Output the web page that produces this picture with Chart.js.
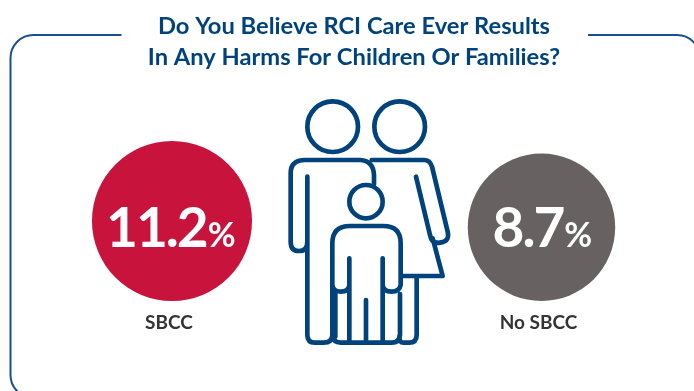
<!DOCTYPE html>
<html>
<head>
<meta charset="utf-8">
<title>RCI Care Harms</title>
<script src="https://cdn.jsdelivr.net/npm/chart.js@4"></script>
<style>
    html, body { margin: 0; padding: 0; background: #ffffff; overflow: hidden; }
    canvas { display: block; }
</style>
</head>
<body>
<canvas id="harmsChart" width="694" height="391"></canvas>
<script>
const titleLines = ['Do You Believe RCI Care Ever Results', 'In Any Harms For Children Or Families?'];
const categories = ['SBCC', 'No SBCC'];
const values = [11.2, 8.7];
const bubbleColors = ['#c8143c', '#676261'];

const navy = '#00437c';
const fontName = 'Lato, "Open Sans", sans-serif';

// circle size grows with the percentage
const radiusFor = (v) => 51.8 + 2.52 * v;

// Outline of the family icon, in a 570x810 box
const familyPaths = [
    // father, then mother
    'M112 260 V735 Q112 758 135 758 H160 Q187 758 187 735 M112 260 V455 Q112 483 87 483 Q62 483 62 455 V250 Q62 210 105 210 H270 Q310 212 312 255 V283',
    'M305 210 H462 Q480 210 486 230 L533 425 Q540 455 510 458 Q485 462 480 435 L438 260 M488 445 L518 558 H395 M440 558 V735 Q440 758 417 758 H400 Q388 758 388 740',
    // child
    'M187 735 V460 Q187 408 240 408 H340 Q392 408 392 460 V585 Q388 605 365 605 Q340 605 338 585 V505 M187 585 Q190 605 212 605 Q236 605 238 585 V505 M238 505 V752 M338 505 V752 M288 630 V752 M187 735 Q190 758 212 758 H365 Q388 758 390 735 V612 M196 612 V740'
];
const familyHeads = [[188, 110, 76], [389, 110, 76], [288, 335, 50]];

const framePlugin = {
    id: 'frame',
    beforeDraw(chart) {
        const ctx = chart.ctx;
        ctx.save();
        ctx.strokeStyle = '#1a4f8f';
        ctx.lineWidth = 2;
        ctx.beginPath();
        ctx.moveTo(121.5, 35);
        ctx.lineTo(33.5, 35);
        ctx.arcTo(10.5, 35, 10.5, 58, 23);
        ctx.lineTo(10.5, 375);
        ctx.arcTo(10.5, 398, 33.5, 398, 23);
        ctx.moveTo(588, 35);
        ctx.lineTo(677, 35);
        ctx.arcTo(700, 35, 700, 58, 23);
        ctx.stroke();
        ctx.restore();
    }
};

const familyPlugin = {
    id: 'family',
    afterDraw(chart) {
        const ctx = chart.ctx;
        ctx.save();
        ctx.translate(270, 90);
        ctx.scale(1 / 3, 1 / 3);
        ctx.strokeStyle = navy;
        ctx.lineWidth = 14;
        ctx.lineCap = 'round';
        ctx.lineJoin = 'round';
        familyPaths.forEach((d) => ctx.stroke(new Path2D(d)));
        familyHeads.forEach(([x, y, r]) => {
            ctx.beginPath();
            ctx.arc(x, y, r, 0, Math.PI * 2);
            ctx.stroke();
        });
        ctx.restore();
    }
};

// Percentage written inside each circle, big number and smaller % sign
const valueLabels = {
    id: 'valueLabels',
    afterDatasetsDraw(chart) {
        const ctx = chart.ctx;
        chart.getDatasetMeta(0).data.forEach((el, i) => {
            const num = values[i].toFixed(1);
            const left = el.x - 66 + i * 17;
            ctx.save();
            ctx.fillStyle = '#ffffff';
            ctx.textBaseline = 'alphabetic';
            ctx.textAlign = 'left';
            ctx.letterSpacing = '-2px';
            ctx.font = '700 55px ' + fontName;
            const numWidth = ctx.measureText(num).width;
            ctx.fillText(num, left, 247);
            ctx.letterSpacing = '0px';
            ctx.font = '700 34px ' + fontName;
            ctx.fillText('%', left + numWidth + 1, 247);
            ctx.restore();
        });
    }
};

new Chart(document.getElementById('harmsChart'), {
    type: 'bubble',
    data: {
        datasets: [{
            data: values.map((v, i) => ({ x: i, y: radiusFor(v), r: radiusFor(v) })),
            backgroundColor: bubbleColors,
            borderWidth: 0,
            clip: false
        }]
    },
    options: {
        responsive: false,
        animation: false,
        events: [],
        layout: { autoPadding: false, padding: { left: 14, bottom: 30 } },
        plugins: {
            legend: { display: false },
            tooltip: { enabled: false },
            title: {
                display: true,
                text: titleLines,
                color: navy,
                font: { family: fontName, size: 23.7, weight: '700', lineHeight: '31px' },
                padding: { top: 11, bottom: 27 }
            }
        },
        scales: {
            x: {
                type: 'linear',
                min: -0.4276,
                max: 1.4128,
                border: { display: false },
                grid: { display: false, drawTicks: false },
                afterBuildTicks: (scale) => {
                    scale.ticks = categories.map((_, i) => ({ value: i }));
                },
                // fixed axis height so the plot area ends where the circles sit
                afterFit: (scale) => { scale.height = 60; },
                ticks: {
                    padding: 10,
                    labelOffset: -3,
                    maxRotation: 0,
                    autoSkip: false,
                    color: '#333333',
                    font: { family: fontName, size: 19, weight: '700' },
                    callback: (v) => categories[v]
                }
            },
            y: { display: false, min: 0, max: 201 }
        }
    },
    plugins: [framePlugin, familyPlugin, valueLabels]
});
</script>
</body>
</html>
